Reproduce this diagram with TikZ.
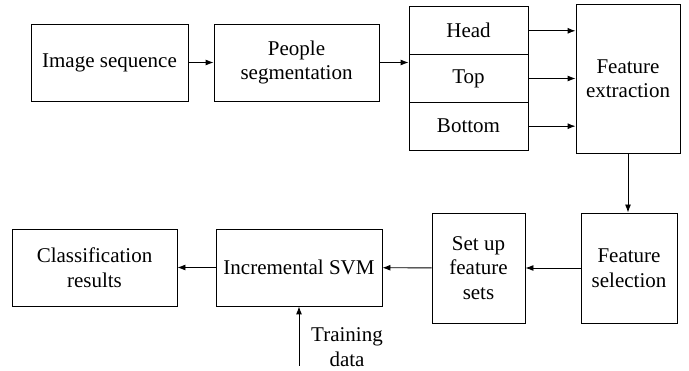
\documentclass[tikz,border=0pt]{standalone}
\usepackage{fontspec}
\setmainfont{Liberation Serif}
\usetikzlibrary{arrows.meta}

\begin{document}
\begin{tikzpicture}[x=1pt, y=-1pt, -{Latex[length=8pt,width=6pt]}, line width=0.9pt,
      every node/.append style={font=\fontsize{21}{24.5}\selectfont}]
    \tikzstyle{block} = [draw, align=center, inner sep=0pt, -]
    \useasboundingbox (0,0) rectangle (689,371);
    % top row
    \node (image) [block, minimum width=157, minimum height=77] at (109.5,62.5) {Image sequence};
    \node (people) [block, minimum width=165, minimum height=77] at (296.5,62.5) {People\\segmentation};
    \node (head) [block, minimum width=119, minimum height=47.7] at (468.5,30.8) {Head};
    \node (top) [block, minimum width=119, minimum height=47.7] at (468.5,78.5) {Top};
    \node (bottom) [block, minimum width=119, minimum height=47.7] at (468.5,126.2) {Bottom};
    \node (extraction) [block, minimum width=104, minimum height=149] at (628,78.5) {Feature\\extraction};
    % bottom row
    \node (selection) [block, minimum width=96, minimum height=110] at (629,268) {Feature\\selection};
    \node (setup) [block, minimum width=93, minimum height=110] at (478.5,268) {Set up\\feature\\sets};
    \node (svm) [block, minimum width=166, minimum height=77] at (299,267.5) {Incremental SVM};
    \node (results) [block, minimum width=165, minimum height=77] at (94.5,267.5) {Classification\\results};
    \node (training) [align=center] at (347,347) {Training\\data};
    \coordinate (train) at (299,366);

    \draw (image) -- (people);
    \draw (people.east) -- (people.east -| top.west);
    \draw (head.east) -- (head.east -| extraction.west);
    \draw (top.east) -- (top.east -| extraction.west);
    \draw (bottom.east) -- (bottom.east -| extraction.west);
    \draw (extraction.south) -- (extraction.south |- selection.north);
    \draw (selection) -- (setup);
    \draw (setup) -- (svm);
    \draw (svm) -- (results);
    \draw (train) -- (svm.south);
  \end{tikzpicture}
\end{document}
